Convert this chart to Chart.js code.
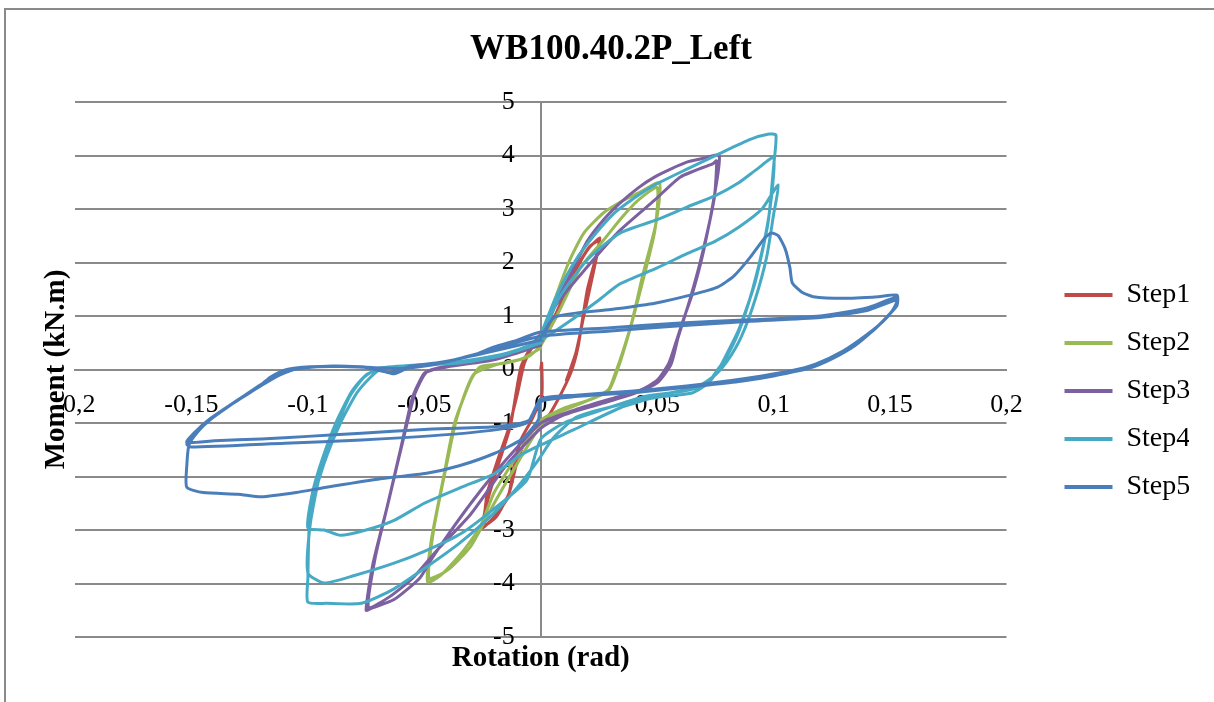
<!DOCTYPE html>
<html>
<head>
<meta charset="utf-8">
<script src="https://cdn.jsdelivr.net/npm/chart.js@4.4.1/dist/chart.umd.min.js"></script>
<style>
  html, body { margin: 0; padding: 0; background: #fff; overflow: hidden; }
  #frame { position: absolute; left: 4px; top: 8px; width: 1400px; height: 900px; border: 2px solid #8a8a8a; }
  #chart { position: absolute; left: 0; top: 0; }
</style>
</head>
<body>
<div id="frame"></div>
<canvas id="chart" width="1214" height="702"></canvas>
<script>
// rotation (rad), moment (kN.m) pairs
const step1 = [
  [0, 0], [0.0004, 0.12], [0.0004, -0.5], [-0.004, -0.95], [-0.0086, -1.32], [-0.0116, -1.82], [-0.014, -2.38], [-0.02, -2.75], [-0.025, -2.96],
  [-0.024, -2.65], [-0.023, -2.31], [-0.0185, -1.69], [-0.014, -1.13], [-0.01, -0.45], [-0.007, 0.12], [-0.002, 0.55], [0.0056, 0.9], [0.013, 1.67], [0.02, 2.23], [0.0254, 2.46],
  [0.0237, 2.1], [0.02, 1.49], [0.016, 0.42], [0.013, -0.05], [0.0073, -0.57], [0.002, -0.95], [-0.005, -1.2], [-0.01, -1.7], [-0.0135, -2.3], [-0.019, -2.75], [-0.024, -2.9],
  [-0.0225, -2.4], [-0.018, -1.75], [-0.013, -1.05], [-0.0085, 0.05], [-0.003, 0.5], [0.006, 1.0], [0.014, 1.8], [0.021, 2.3], [0.025, 2.4], [0.023, 1.9], [0.0185, 1.0], [0.015, 0.3], [0.011, -0.2]
];
const step2 = [
  [0, 0.5], [0.006, 1.3], [0.012, 2.0], [0.0185, 2.55], [0.027, 2.93], [0.035, 3.15], [0.042, 3.3], [0.051, 3.49],
  [0.0495, 2.74], [0.044, 1.8], [0.039, 0.87], [0.035, 0.3], [0.032, -0.07], [0.029, -0.38], [0.02, -0.58], [0.01, -0.72], [0, -0.95],
  [-0.01, -1.6], [-0.02, -2.3], [-0.026, -2.94], [-0.034, -3.43], [-0.043, -3.85], [-0.0486, -3.97],
  [-0.047, -3.19], [-0.042, -2.07], [-0.037, -1.0], [-0.03, -0.2], [-0.026, 0.05], [-0.015, 0.12], [-0.005, 0.25], [0, 0.45],
  [0.008, 1.1], [0.017, 1.9], [0.027, 2.42], [0.035, 2.85], [0.042, 3.17], [0.05, 3.4],
  [0.049, 2.6], [0.0435, 1.6], [0.038, 0.7], [0.033, 0.0], [0.029, -0.4], [0.018, -0.62], [0.008, -0.8], [0, -1.05],
  [-0.01, -1.75], [-0.02, -2.5], [-0.03, -3.3], [-0.04, -3.75], [-0.048, -3.9],
  [-0.046, -3.0], [-0.041, -1.9], [-0.036, -0.9], [-0.029, -0.1], [-0.02, 0.08], [-0.008, 0.2], [0, 0.4]
];
const step3 = [
  [0, 0.55], [0.006, 1.2], [0.013, 1.8], [0.02, 2.4], [0.027, 2.8], [0.034, 3.11], [0.042, 3.4], [0.049, 3.6], [0.056, 3.75], [0.063, 3.88], [0.07, 3.95], [0.0766, 4.0],
  [0.075, 3.36], [0.07, 2.23], [0.065, 1.4], [0.061, 0.9], [0.058, 0.5], [0.055, 0.12], [0.05, -0.2], [0.043, -0.38], [0.03, -0.55], [0.015, -0.75], [0, -1.0],
  [-0.01, -1.45], [-0.02, -1.95], [-0.03, -2.5], [-0.04, -3.1], [-0.047, -3.55], [-0.052, -3.9], [-0.063, -4.3], [-0.072, -4.45], [-0.075, -4.5],
  [-0.072, -3.62], [-0.066, -2.57], [-0.06, -1.45], [-0.055, -0.51], [-0.05, -0.07], [-0.045, 0.02], [-0.035, 0.1], [-0.02, 0.2], [-0.01, 0.35], [0, 0.5],
  [0.006, 1.17], [0.02, 1.92], [0.034, 2.6], [0.049, 3.17], [0.06, 3.6], [0.074, 3.85], [0.0755, 3.9],
  [0.0745, 3.2], [0.069, 2.1], [0.064, 1.3], [0.059, 0.6], [0.056, 0.1], [0.05, -0.25], [0.04, -0.45], [0.025, -0.65], [0.01, -0.85], [0, -1.1],
  [-0.015, -1.8], [-0.03, -2.7], [-0.045, -3.4], [-0.055, -3.9], [-0.065, -4.25], [-0.074, -4.45],
  [-0.071, -3.5], [-0.065, -2.4], [-0.059, -1.3], [-0.054, -0.45], [-0.049, -0.05], [-0.04, 0.05], [-0.02, 0.18], [0, 0.45]
];
const step4 = [
  [0, 0.65], [0.006, 1.3], [0.013, 1.9], [0.02, 2.35], [0.031, 2.9], [0.04, 3.2], [0.049, 3.45], [0.063, 3.75], [0.077, 4.04], [0.09, 4.3], [0.098, 4.4], [0.101, 4.38],
  [0.1, 3.8], [0.0976, 2.74], [0.092, 1.62], [0.085, 0.74], [0.08, 0.3], [0.077, 0.05], [0.072, -0.25], [0.065, -0.44], [0.05, -0.52], [0.03, -0.7], [0.015, -0.9], [0.005, -1.3],
  [-0.001, -1.69], [-0.01, -2.2], [-0.02, -2.68], [-0.035, -3.25], [-0.049, -3.69], [-0.063, -4.1], [-0.077, -4.37], [-0.092, -4.37], [-0.1, -4.35],
  [-0.1, -3.9], [-0.099, -2.68], [-0.093, -1.75], [-0.086, -1.0], [-0.079, -0.44], [-0.073, -0.14], [-0.069, 0], [-0.06, 0.05], [-0.045, 0.1], [-0.03, 0.18], [-0.015, 0.3], [-0.005, 0.45], [0, 0.6],
  [0.008, 1.35], [0.02, 2.05], [0.034, 2.55], [0.05, 2.8], [0.063, 3.04], [0.075, 3.25], [0.085, 3.49], [0.093, 3.75], [0.1, 3.96],
  [0.099, 3.2], [0.096, 2.4], [0.091, 1.5], [0.085, 0.7], [0.08, 0.25], [0.076, 0], [0.071, -0.28], [0.062, -0.4], [0.045, -0.5], [0.026, -0.76], [0.01, -1.0], [0, -1.3],
  [-0.006, -2.07], [-0.02, -2.6], [-0.034, -3.06], [-0.05, -3.4], [-0.063, -3.62], [-0.08, -3.85], [-0.093, -3.99], [-0.1, -3.8],
  [-0.099, -2.9], [-0.095, -2.0], [-0.089, -1.2], [-0.082, -0.5], [-0.076, -0.15], [-0.07, 0.02], [-0.055, 0.08], [-0.035, 0.12], [-0.015, 0.28], [0, 0.55],
  [0.013, 0.92], [0.025, 1.3], [0.034, 1.6], [0.05, 1.9], [0.063, 2.17], [0.075, 2.4], [0.085, 2.66], [0.095, 3.0], [0.102, 3.45],
  [0.1, 2.9], [0.097, 2.1], [0.092, 1.3], [0.086, 0.6], [0.08, 0.15], [0.075, -0.1], [0.068, -0.3], [0.052, -0.48], [0.034, -0.72], [0.014, -1.13], [0, -1.41],
  [-0.0086, -1.6], [-0.02, -1.95], [-0.034, -2.2], [-0.05, -2.5], [-0.063, -2.82], [-0.075, -3.0], [-0.086, -3.1], [-0.093, -3.0], [-0.1, -2.96],
  [-0.098, -2.3], [-0.094, -1.7], [-0.088, -1.0], [-0.081, -0.4], [-0.075, -0.1], [-0.068, 0.02], [-0.05, 0.08], [-0.03, 0.15], [-0.01, 0.35], [0, 0.5]
];
const step5 = [
  [0, 0.6], [0.006, 0.98], [0.03, 1.12], [0.049, 1.24], [0.065, 1.4], [0.076, 1.54], [0.083, 1.75], [0.09, 2.1], [0.096, 2.45], [0.099, 2.55], [0.102, 2.5], [0.105, 2.25], [0.107, 1.9], [0.108, 1.62],
  [0.112, 1.45], [0.117, 1.36], [0.13, 1.33], [0.145, 1.36], [0.153, 1.39],
  [0.153, 1.2], [0.149, 1.0], [0.143, 0.74], [0.135, 0.45], [0.125, 0.2], [0.115, 0.02], [0.1, -0.12], [0.086, -0.22], [0.072, -0.29], [0.043, -0.42], [0.014, -0.51], [0, -0.6],
  [-0.001, -0.94], [-0.008, -1.3], [-0.02, -1.57], [-0.035, -1.8], [-0.049, -1.94], [-0.07, -2.05], [-0.092, -2.2], [-0.105, -2.3], [-0.12, -2.38], [-0.13, -2.33], [-0.145, -2.3], [-0.152, -2.2],
  [-0.152, -1.8], [-0.151, -1.4], [-0.147, -1.15], [-0.142, -0.94], [-0.135, -0.72], [-0.128, -0.51], [-0.12, -0.28], [-0.116, -0.14], [-0.109, 0], [-0.099, 0.05], [-0.088, 0.06], [-0.077, 0.05],
  [-0.07, 0.0], [-0.063, -0.08], [-0.056, 0.05], [-0.045, 0.12], [-0.03, 0.25], [-0.02, 0.42], [-0.01, 0.55], [0, 0.7],
  [0.03, 0.78], [0.06, 0.87], [0.09, 0.93], [0.12, 1.0], [0.14, 1.15], [0.153, 1.35],
  [0.152, 1.15], [0.148, 0.95], [0.142, 0.7], [0.132, 0.4], [0.12, 0.12], [0.11, 0.0], [0.095, -0.12], [0.07, -0.27], [0.04, -0.4], [0.015, -0.48], [0, -0.55],
  [-0.005, -0.95], [-0.02, -1.07], [-0.05, -1.12], [-0.077, -1.19], [-0.1, -1.25], [-0.12, -1.3], [-0.14, -1.33], [-0.152, -1.36],
  [-0.148, -1.15], [-0.142, -0.92], [-0.134, -0.68], [-0.127, -0.48], [-0.119, -0.25], [-0.113, -0.1], [-0.106, 0.0], [-0.096, 0.05], [-0.077, 0.05], [-0.065, -0.05],
  [-0.055, 0.07], [-0.04, 0.15], [-0.02, 0.38], [0, 0.62],
  [0.03, 0.72], [0.06, 0.82], [0.09, 0.9], [0.12, 0.97], [0.14, 1.1], [0.153, 1.3],
  [0.151, 1.1], [0.147, 0.9], [0.14, 0.65], [0.13, 0.35], [0.118, 0.1], [0.108, -0.02], [0.09, -0.16], [0.065, -0.3], [0.035, -0.42], [0.01, -0.5], [0, -0.55],
  [-0.006, -1.0], [-0.03, -1.18], [-0.077, -1.32], [-0.11, -1.38], [-0.15, -1.45], [-0.152, -1.4],
  [-0.149, -1.2], [-0.143, -0.97], [-0.136, -0.74], [-0.128, -0.52], [-0.12, -0.3], [-0.112, -0.1], [-0.104, 0.02], [-0.09, 0.06], [-0.075, 0.04], [-0.06, 0.02],
  [-0.045, 0.1], [-0.025, 0.3], [-0.01, 0.45], [0, 0.55]
];

const stepNames = ['Step1', 'Step2', 'Step3', 'Step4', 'Step5'];
const stepColors = ['#BE4B48', '#98B954', '#7D60A0', '#46AAC5', '#4A7EBB'];
const rotationTicks = [-0.2, -0.15, -0.1, -0.05, 0, 0.05, 0.1, 0.15, 0.2];
const rotationTickLabels = ['-0,2', '-0,15', '-0,1', '-0,05', '0', '0,05', '0,1', '0,15', '0,2'];
const momentTicks = [-5, -4, -3, -2, -1, 0, 1, 2, 3, 4, 5];
const momentTickLabels = ['-5', '-4', '-3', '-2', '-1', '0', '1', '2', '3', '4', '5'];

const serif = '"Liberation Serif", "Times New Roman", serif';
const gray = '#8a8a8a';
Chart.defaults.color = '#000';
Chart.defaults.font.family = serif;

const steps = [step1, step2, step3, step4, step5];

new Chart(document.getElementById('chart'), {
  type: 'scatter',
  data: {
    datasets: steps.map((pts, i) => ({
      label: stepNames[i],
      data: pts.map(p => ({ x: p[0], y: p[1] })),
      showLine: true,
      borderColor: stepColors[i],
      backgroundColor: stepColors[i],
      borderWidth: 3,
      pointRadius: 0,
      tension: 0.2,
      borderJoinStyle: 'round',
      borderCapStyle: 'round',
      order: 5 - i,
      xAxisID: 'x',
      yAxisID: 'y'
    }))
  },
  options: {
    responsive: false,
    animation: false,
    layout: { padding: { left: 33, right: 25, top: 10, bottom: 0 } },
    scales: {
      // symmetric ranges, so the centre of the plot is the (0, 0) crossing
      x: {
        type: 'linear',
        position: 'center',
        min: -0.2,
        max: 0.2,
        afterBuildTicks: s => { s.ticks = rotationTicks.map(v => ({ value: v })); },
        ticks: {
          callback: (v, i) => rotationTickLabels[i],
          font: { size: 26 },
          padding: 20,
          maxRotation: 0,
          autoSkip: false
        },
        grid: { display: false, drawTicks: false },
        border: { display: true, color: gray, width: 2 }
      },
      y: {
        type: 'linear',
        position: 'center',
        min: -5,
        max: 5,
        afterBuildTicks: s => { s.ticks = momentTicks.map(v => ({ value: v })); },
        ticks: {
          callback: (v, i) => momentTickLabels[i],
          font: { size: 26 },
          padding: 26,
          autoSkip: false
        },
        grid: { color: gray, lineWidth: 2, drawTicks: false },
        border: { display: true, color: gray, width: 2 }
      },
      xTitle: {
        type: 'linear',
        position: 'bottom',
        afterFit: s => { s.height = 65; },
        ticks: { display: false },
        grid: { display: false, drawTicks: false },
        border: { display: false },
        title: {
          display: true,
          text: 'Rotation (rad)',
          font: { size: 29, weight: 'bold' },
          padding: { top: 0, bottom: 25.6 }
        }
      },
      yTitle: {
        type: 'linear',
        position: 'left',
        afterFit: s => { s.width = 42; },
        ticks: { display: false },
        grid: { display: false, drawTicks: false },
        border: { display: false },
        title: {
          display: true,
          text: 'Moment (kN.m)',
          font: { size: 29, weight: 'bold' },
          padding: { top: 6.6, bottom: 0 }
        }
      },
      yGap: {
        type: 'linear',
        position: 'right',
        afterFit: s => { s.width = 38; },
        ticks: { display: false },
        grid: { display: false, drawTicks: false },
        border: { display: false }
      }
    },
    plugins: {
      title: {
        display: true,
        text: 'WB100.40.2P_Left',
        font: { size: 35, weight: 'bold' },
        padding: { top: 19, bottom: 31 }
      },
      legend: {
        position: 'right',
        fullSize: false,
        align: 'start',
        title: { display: true, text: ' ', font: { size: 10 }, padding: { top: 147, bottom: 0 } },
        labels: {
          font: { size: 28 },
          boxWidth: 48,
          boxHeight: 4,
          padding: 20,
          sort: (a, b) => a.datasetIndex - b.datasetIndex,
          generateLabels: chart => Chart.defaults.plugins.legend.labels.generateLabels(chart)
            .map(l => Object.assign(l, { fillStyle: l.strokeStyle, lineWidth: 0 }))
        }
      },
      tooltip: { enabled: false }
    }
  }
});
</script>
</body>
</html>
